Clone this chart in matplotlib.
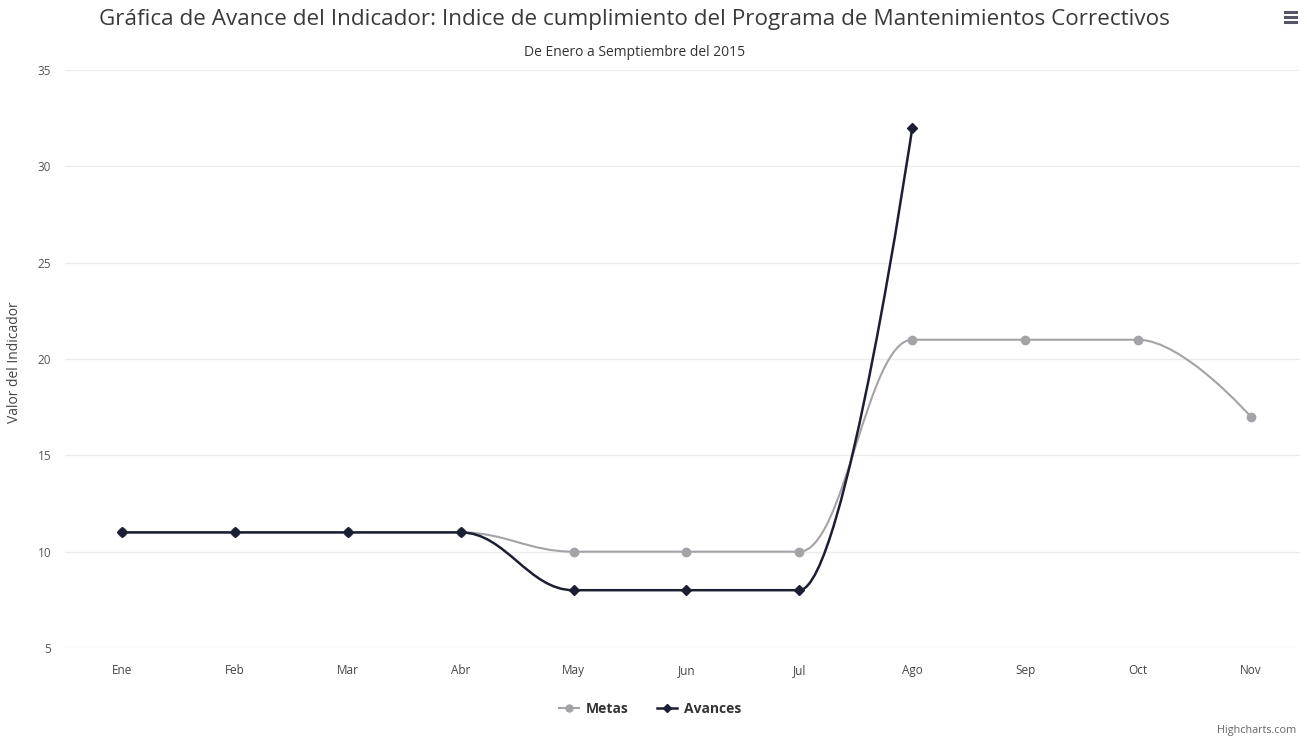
import matplotlib
matplotlib.use("Agg")
import matplotlib.pyplot as plt
from matplotlib.path import Path
from matplotlib.patches import PathPatch
from matplotlib.lines import Line2D

categories = ["Ene", "Feb", "Mar", "Abr", "May", "Jun", "Jul", "Ago", "Sep", "Oct", "Nov"]
metas = [11, 11, 11, 11, 10, 10, 10, 21, 21, 21, 17]
avances = [11, 11, 11, 11, 8, 8, 8, 32]
yticks = [5, 10, 15, 20, 25, 30, 35]

title = "Gráfica de Avance del Indicador: Indice de cumplimiento del Programa de Mantenimientos Correctivos"
subtitle = "De Enero a Semptiembre del 2015"
ylabel = "Valor del Indicador"

FONT = "Open Sans"
plt.rcParams['font.family'] = [FONT, 'DejaVu Sans']


def spline_path(xs, ys, smoothing=1.5):
    """Highcharts-style spline as cubic Bezier path."""
    n = len(xs)
    lc = [None] * n
    rc = [None] * n
    denom = smoothing + 1
    for i in range(1, n - 1):
        px, py = xs[i], ys[i]
        lx, ly = xs[i - 1], ys[i - 1]
        nx, ny = xs[i + 1], ys[i + 1]
        lcx = (smoothing * px + lx) / denom
        lcy = (smoothing * py + ly) / denom
        rcx = (smoothing * px + nx) / denom
        rcy = (smoothing * py + ny) / denom
        if rcx != lcx:
            corr = ((rcy - lcy) * (rcx - px)) / (rcx - lcx) + py - rcy
            lcy += corr
            rcy += corr
        if lcy > max(ly, py):
            lcy = max(ly, py); rcy = 2 * py - lcy
        elif lcy < min(ly, py):
            lcy = min(ly, py); rcy = 2 * py - lcy
        if rcy > max(py, ny):
            rcy = max(py, ny); lcy = 2 * py - rcy
        elif rcy < min(py, ny):
            rcy = min(py, ny); lcy = 2 * py - rcy
        lc[i] = (lcx, lcy)
        rc[i] = (rcx, rcy)
    verts = [(xs[0], ys[0])]
    codes = [Path.MOVETO]
    for i in range(1, n):
        c1 = rc[i - 1] if rc[i - 1] is not None else (xs[i - 1], ys[i - 1])
        c2 = lc[i] if lc[i] is not None else (xs[i], ys[i])
        verts += [c1, c2, (xs[i], ys[i])]
        codes += [Path.CURVE4] * 3
    return Path(verts, codes)


fig = plt.figure(figsize=(13.08, 7.39), dpi=100)
W, H = 1308, 739
ax = fig.add_axes([65 / W, 1 - 648 / H, (1300 - 65) / W, (648 - 70) / H])

ax.set_xlim(-0.505, 10.435)
ax.set_ylim(5, 35)
for s in ax.spines.values():
    s.set_visible(False)
ax.set_yticks(yticks)
ax.set_yticklabels([str(v) for v in yticks], color="#555555", fontsize=8.5)
ax.set_xticks(range(len(categories)))
ax.set_xticklabels(categories, color="#444444", fontsize=8.5)
ax.tick_params(axis="both", length=0)
ax.tick_params(axis="x", pad=11.5)
ax.tick_params(axis="y", pad=10)
ax.grid(axis="y", color="#ececec", linewidth=1)
ax.set_axisbelow(True)

c_metas = "#a3a3a8"
c_av = "#1c1f33"

xm = list(range(len(metas)))
xa = list(range(len(avances)))
ax.add_patch(PathPatch(spline_path(xm, metas), fill=False, edgecolor=c_metas, linewidth=1.5, zorder=3))
ax.add_patch(PathPatch(spline_path(xa, avances), fill=False, edgecolor=c_av, linewidth=1.8, zorder=4))
ax.plot(xm, metas, linestyle="none", marker="o", markersize=6, color=c_metas, zorder=5)
ax.plot(xa, avances, linestyle="none", marker="D", markersize=5, color=c_av, zorder=6)

fig.text(634 / W, 1 - 19 / H, title, ha="center", va="center",
         fontsize=16.2, color="#3a3a3a")
fig.text(635 / W, 1 - 53 / H, subtitle, ha="center", va="center",
         fontsize=10, color="#333333")
fig.text(15 / W, 1 - 362 / H, ylabel, rotation=90, ha="center", va="center",
         fontsize=10, color="#444444")

handles = [
    Line2D([], [], color=c_metas, marker="o", markersize=5, linewidth=1.5),
    Line2D([], [], color=c_av, marker="D", markersize=4, linewidth=1.8),
]
leg = fig.legend(handles, ["Metas", "Avances"], loc="center", bbox_to_anchor=(650 / W, 1 - 709 / H),
                 ncol=2, frameon=False, handlelength=1.45, handletextpad=0.45, columnspacing=2.1,
                 prop={"family": FONT, "weight": "bold", "size": 10})
for t in leg.get_texts():
    t.set_color("#333333")

fig.text(1296 / W, 1 - 730 / H, "Highcharts.com", ha="right", va="center", fontsize=7.8, color="#666666")

# menu icon
for dy in (12, 17, 22):
    fig.add_artist(Line2D([1285 / W, 1296 / W], [1 - dy / H, 1 - dy / H], color="#555566", linewidth=2.2))

fig.savefig("out.png", dpi=100)
